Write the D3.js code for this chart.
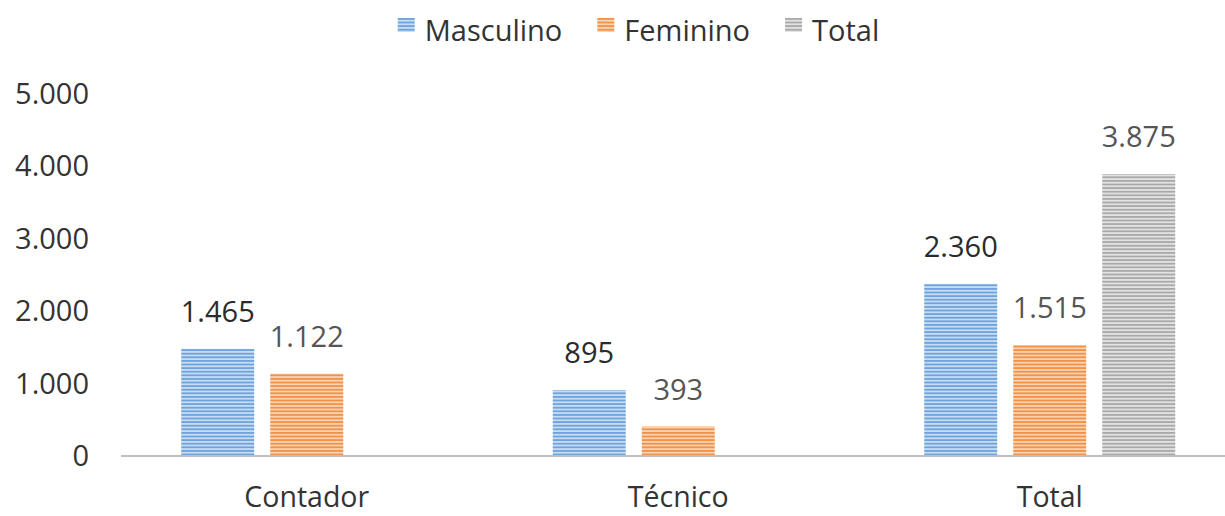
<!DOCTYPE html>
<html>
<head>
<meta charset="utf-8">
<script src="https://cdn.jsdelivr.net/npm/d3@7"></script>
<style>
  html, body { margin: 0; padding: 0; background: #ffffff; }
  svg { display: block; }
  text { font-family: "Open Sans", sans-serif; }
</style>
</head>
<body>
<svg id="chart" width="1225" height="516"></svg>
<script>
// ---- data ----
const categories = ["Contador", "Técnico", "Total"];
const seriesNames = ["Masculino", "Feminino", "Total"];
const masculino = [1465, 895, 2360];
const feminino = [1122, 393, 1515];
const total = [null, null, 3875];
const yTicks = [0, 1000, 2000, 3000, 4000, 5000];

const seriesValues = [masculino, feminino, total];
const darkColors = ["#6fa3dc", "#f0924a", "#a9a9a9"];
const lightColors = ["#c5dcf2", "#fbd2b0", "#e2e2e2"];
const labelColors = ["#2b2b2b", "#555555", "#555555"];

const svg = d3.select("#chart");
const fmt = d3.formatLocale({decimal: ",", thousands: ".", grouping: [3], currency: ["", ""]}).format(",d");

// patterns (horizontal stripes)
const defs = svg.append("defs");
seriesNames.forEach((s, i) => {
  const p = defs.append("pattern")
    .attr("id", "pat" + i)
    .attr("patternUnits", "userSpaceOnUse")
    .attr("width", 8).attr("height", 3.6);
  p.append("rect").attr("width", 8).attr("height", 3.6).attr("fill", lightColors[i]);
  p.append("rect").attr("y", 0).attr("width", 8).attr("height", 1.8).attr("fill", darkColors[i]);
});

// scales
const x0 = d3.scaleBand().domain(categories).range([121, 121 + 3 * 371.5]).paddingInner(0).paddingOuter(0);
const x1 = d3.scaleBand().domain(seriesNames).range([60.25, 311.25]).paddingInner(0.18).paddingOuter(0);
const y = d3.scaleLinear().domain([0, 5000]).range([455, 92.5]);

// y tick labels
svg.append("g").selectAll("text").data(yTicks).join("text")
  .attr("x", 89)
  .attr("y", d => y(d) + 11)
  .attr("text-anchor", "end")
  .attr("font-size", 29)
  .attr("fill", "#333333")
  .text(d => fmt(d));

// bars
const rows = [];
categories.forEach((c, ci) => {
  seriesNames.forEach((s, si) => {
    const v = seriesValues[si][ci];
    if (v != null) rows.push({c, s, si, v});
  });
});

svg.append("g").selectAll("rect").data(rows).join("rect")
  .attr("x", d => x0(d.c) + x1(d.s))
  .attr("y", d => y(d.v))
  .attr("width", x1.bandwidth())
  .attr("height", d => y(0) - y(d.v))
  .attr("fill", d => "url(#pat" + d.si + ")");

// data labels
svg.append("g").selectAll("text").data(rows).join("text")
  .attr("x", d => x0(d.c) + x1(d.s) + x1.bandwidth() / 2)
  .attr("y", d => y(d.v) - 27)
  .attr("text-anchor", "middle")
  .attr("font-size", 29)
  .attr("fill", d => labelColors[d.si])
  .text(d => fmt(d.v));

// x axis line
svg.append("line")
  .attr("x1", x0.range()[0]).attr("x2", 1225)
  .attr("y1", y(0) + 1).attr("y2", y(0) + 1)
  .attr("stroke", "#bfbfbf").attr("stroke-width", 2);

// category labels
svg.append("g").selectAll("text").data(categories).join("text")
  .attr("x", d => x0(d) + x0.bandwidth() / 2)
  .attr("y", 507)
  .attr("text-anchor", "middle")
  .attr("font-size", 28.5)
  .attr("fill", "#333333")
  .text(d => d);

// legend
const legend = svg.append("g");
const items = legend.selectAll("g").data(seriesNames).join("g");
items.append("rect")
  .attr("y", 18).attr("width", 17).attr("height", 14)
  .attr("fill", (d, i) => "url(#pat" + i + ")");
items.append("text")
  .attr("x", 27).attr("y", 41)
  .attr("font-size", 29)
  .attr("fill", "#333333")
  .text(d => d);
let cx = 0;
const offsets = [];
items.each(function () {
  offsets.push(cx);
  const w = 27 + d3.select(this).select("text").node().getComputedTextLength();
  cx += w + 35;
});
const totalW = cx - 35;
const startX = 638.5 - totalW / 2;
items.attr("transform", (d, i) => `translate(${startX + offsets[i]},0)`);
</script>
</body>
</html>
